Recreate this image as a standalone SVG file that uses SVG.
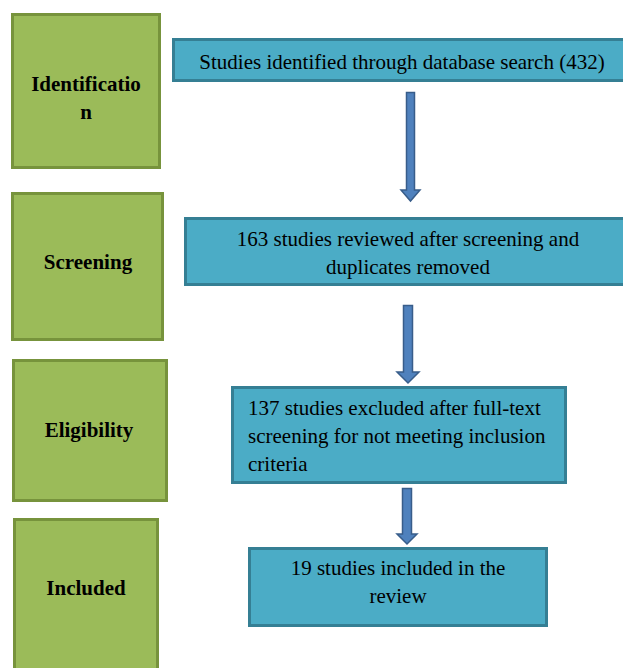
<svg xmlns="http://www.w3.org/2000/svg" width="623" height="668" viewBox="0 0 623 668">
<style>
.stage{fill:#9bbb59;stroke:#77933c;stroke-width:3}
.box{fill:#4bacc6;stroke:#357f94;stroke-width:3}
.st{font-family:'Liberation Serif','Times New Roman',serif;font-weight:bold;font-size:21px;fill:#000;text-anchor:middle}
.bt{font-family:'Liberation Serif','Times New Roman',serif;font-size:21px;fill:#000}
.arrow{fill:#4f81bd;stroke:#385d8a;stroke-width:1.5}
</style>
<rect width="623" height="668" fill="#fff"/>
<g id="stage-identification">
<rect class="stage" x="12.5" y="14.5" width="147" height="153"/>
<text class="st" x="86" y="91">Identificatio</text>
<text class="st" x="86" y="119">n</text>
</g>
<g id="stage-screening">
<rect class="stage" x="12.5" y="193.5" width="150" height="146"/>
<text class="st" x="88" y="269">Screening</text>
</g>
<g id="stage-eligibility">
<rect class="stage" x="13.5" y="360.5" width="153" height="140"/>
<text class="st" x="89" y="437">Eligibility</text>
</g>
<g id="stage-included">
<rect class="stage" x="14.5" y="519.5" width="143" height="160"/>
<text class="st" x="86" y="595">Included</text>
</g>
<g id="box-identified">
<rect class="box" x="173.5" y="39.5" width="452" height="41"/>
<text class="bt" x="402" y="69" text-anchor="middle">Studies identified through database search (432)</text>
</g>
<g id="box-screened">
<rect class="box" x="185.5" y="218.5" width="440" height="66"/>
<text class="bt" x="408" y="246" text-anchor="middle">163 studies reviewed after screening and</text>
<text class="bt" x="408" y="274" text-anchor="middle">duplicates removed</text>
</g>
<g id="box-excluded">
<rect class="box" x="232.5" y="387.5" width="333" height="95"/>
<text class="bt" x="248" y="415">137 studies excluded after full-text</text>
<text class="bt" x="248" y="443">screening for not meeting inclusion</text>
<text class="bt" x="248" y="471">criteria</text>
</g>
<g id="box-included">
<rect class="box" x="249.5" y="548.5" width="297" height="77"/>
<text class="bt" x="398" y="575" text-anchor="middle">19 studies included in the</text>
<text class="bt" x="398" y="603" text-anchor="middle">review</text>
</g>
<g id="connectors">
<path class="arrow" d="M406.5,92.5 H414.5 V190 H420 L410.5,201 L401,190 H406.5 Z"/>
<path class="arrow" d="M403.5,305.5 H412.5 V372 H419 L408,383 L397,372 H403.5 Z"/>
<path class="arrow" d="M402.5,488.5 H411.5 V534 H417 L407,544 L397,534 H402.5 Z"/>
</g>
</svg>
